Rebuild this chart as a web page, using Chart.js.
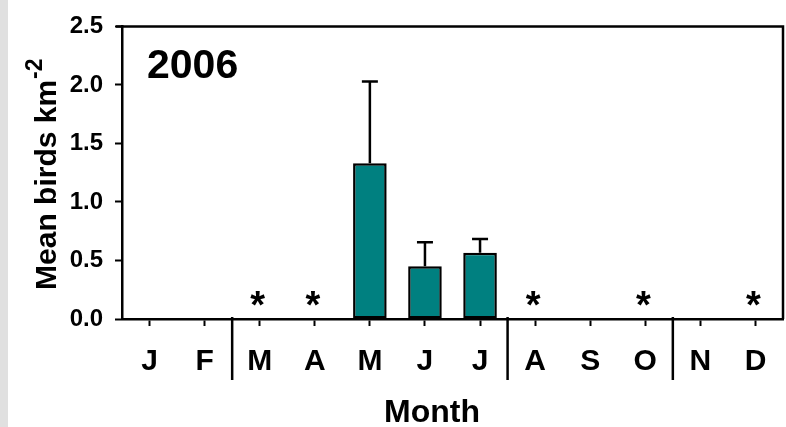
<!DOCTYPE html>
<html>
<head>
<meta charset="utf-8">
<script src="https://cdn.jsdelivr.net/npm/chart.js@4/dist/chart.umd.min.js"></script>
<style>
  html, body { margin: 0; padding: 0; background: #fff; }
  #wrap { width: 786px; height: 427px; position: relative; }
</style>
</head>
<body>
<div id="wrap"><canvas id="c" width="786" height="427"></canvas></div>
<script>
// Monthly mean bird density, 2006
const months = ['J', 'F', 'M', 'A', 'M', 'J', 'J', 'A', 'S', 'O', 'N', 'D'];
const meanBirds = [null, null, null, null, 1.33, 0.45, 0.565, null, null, null, null, null];
const upperError = [null, null, null, null, 0.70, 0.206, 0.119, null, null, null, null, null];
// months flagged with an asterisk
const flaggedMonths = [2, 3, 7, 9, 11];
// season boundaries: a divider after these month indexes
const seasonBreaks = [1, 6, 9];
const yTicks = [0, 0.5, 1.0, 1.5, 2.0, 2.5];
const yearLabel = '2006';

const FONT = '"Liberation Sans", Arial, Helvetica, sans-serif';

const decorations = {
  id: 'decorations',
  beforeDraw(chart) {
    const ctx = chart.ctx;
    ctx.save();
    ctx.fillStyle = '#ffffff';
    ctx.fillRect(0, 0, chart.width, chart.height);
    ctx.fillStyle = '#e0e0e0';
    ctx.fillRect(0, 0, 8, chart.height);
    ctx.restore();
  },
  afterDatasetsDraw(chart) {
    const ctx = chart.ctx;
    const x = chart.scales.x, y = chart.scales.y;
    const area = chart.chartArea;
    const meta = chart.getDatasetMeta(0);
    ctx.save();
    ctx.strokeStyle = '#000';
    ctx.fillStyle = '#000';

    // error bars (upper only)
    ctx.lineWidth = 2.5;
    meta.data.forEach((bar, i) => {
      const v = meanBirds[i], e = upperError[i];
      if (v == null || e == null) return;
      const top = y.getPixelForValue(v + e);
      ctx.beginPath();
      ctx.moveTo(bar.x, bar.y);
      ctx.lineTo(bar.x, top);
      ctx.moveTo(bar.x - 8, top);
      ctx.lineTo(bar.x + 8, top);
      ctx.stroke();
    });

    // top and right frame
    ctx.lineWidth = 2.5;
    ctx.beginPath();
    ctx.moveTo(area.left - 6, area.top);
    ctx.lineTo(area.right, area.top);
    ctx.lineTo(area.right, area.bottom);
    ctx.stroke();

    // season dividers below the axis
    ctx.lineWidth = 2.5;
    seasonBreaks.forEach(i => {
      const px = (x.getPixelForValue(i) + x.getPixelForValue(i + 1)) / 2;
      ctx.beginPath();
      ctx.moveTo(px, area.bottom - 2);
      ctx.lineTo(px, area.bottom + 61);
      ctx.stroke();
    });

    // asterisks
    ctx.font = 'bold 38px ' + FONT;
    ctx.textAlign = 'center';
    ctx.textBaseline = 'alphabetic';
    const m = ctx.measureText('*');
    const a = m.actualBoundingBoxAscent, d = m.actualBoundingBoxDescent;
    flaggedMonths.forEach(i => {
      const cy = y.getPixelForValue(0) - 21;
      ctx.fillText('*', x.getPixelForValue(i) - 2, cy - (d - a) / 2);
    });

    // year label
    ctx.font = 'bold 41px ' + FONT;
    ctx.textAlign = 'left';
    ctx.fillText(yearLabel, 147, 78);

    // x axis title
    ctx.font = 'bold 32px ' + FONT;
    ctx.textAlign = 'center';
    ctx.fillText('Month', 432, 422);

    // y axis title with superscript
    ctx.translate(56, (area.top + area.bottom) / 2 + 2);
    ctx.rotate(-Math.PI / 2);
    const main = 'Mean birds km', sup = '-2';
    ctx.font = 'bold 30px ' + FONT;
    const wMain = ctx.measureText(main).width;
    ctx.font = 'bold 23px ' + FONT;
    const wSup = ctx.measureText(sup).width;
    const start = -(wMain + wSup) / 2;
    ctx.textAlign = 'left';
    ctx.font = 'bold 30px ' + FONT;
    ctx.fillText(main, start, 0);
    ctx.font = 'bold 23px ' + FONT;
    ctx.fillText(sup, start + wMain + 1, -14);
    ctx.restore();
  }
};

new Chart(document.getElementById('c'), {
  type: 'bar',
  data: {
    labels: months,
    datasets: [{
      data: meanBirds,
      backgroundColor: '#008080',
      borderColor: '#000000',
      borderWidth: 2.5,
      borderSkipped: false,
      barPercentage: 0.61,
      categoryPercentage: 1.0
    }]
  },
  options: {
    responsive: false,
    animation: false,
    devicePixelRatio: 1,
    layout: { padding: { left: 0, top: 18, right: 3, bottom: 0 } },
    plugins: { legend: { display: false }, tooltip: { enabled: false } },
    scales: {
      x: {
        offset: true,
        grid: { display: true, offset: false, drawOnChartArea: false, drawTicks: true,
                tickLength: 7, tickWidth: 2, tickColor: '#000' },
        border: { display: true, color: '#000', width: 2.5 },
        ticks: { color: '#000', padding: 18, maxRotation: 0, autoSkip: false,
                 font: { family: FONT, size: 30, weight: 'bold' } },
        afterFit(s) { s.height = 108; }
      },
      y: {
        min: 0, max: 2.5,
        afterBuildTicks(s) { s.ticks = yTicks.map(v => ({ value: v })); },
        grid: { display: true, drawOnChartArea: false, drawTicks: true,
                tickLength: 7, tickWidth: 2, tickColor: '#000' },
        border: { display: true, color: '#000', width: 2.5 },
        ticks: { color: '#000', padding: 12,
                 callback: v => Number(v).toFixed(1),
                 font: { family: FONT, size: 24, weight: 'bold' } },
        afterFit(s) { s.width = 122; }
      }
    }
  },
  plugins: [decorations]
});
</script>
</body>
</html>
